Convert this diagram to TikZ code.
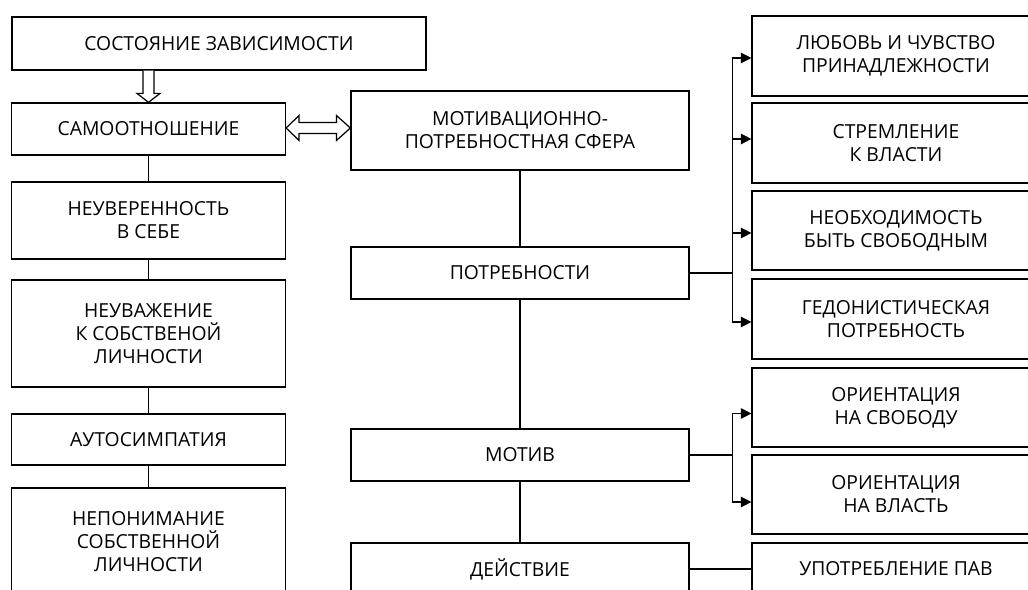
\documentclass[tikz,border=0pt]{standalone}
\usepackage{fontspec}
\setmainfont{Open Sans}
\usepackage{tikz}
\usetikzlibrary{calc,arrows.meta}

\begin{document}
\begin{tikzpicture}[x=0.02cm, y=-0.02cm,
  box/.style={draw, line width=0.7pt, align=center, inner sep=0pt, font=\fontsize{11}{13}\selectfont},
  link/.style={line width=0.7pt},
  tip/.style={line width=0.7pt, -{Triangle[length=6pt,width=6pt]}},
  hollow/.style={draw, line width=0.7pt, fill=white}]

  \useasboundingbox (0,0) rectangle (1028,590);
  \clip (0,0) rectangle (1028,590);

  \node[box, minimum width=8.28cm, minimum height=1.06cm] (dep) at (219,43.5) {СОСТОЯНИЕ ЗАВИСИМОСТИ};
  \node[box, minimum width=5.48cm, minimum height=1.04cm] (self) at (148.5,129) {САМООТНОШЕНИЕ};
  \node[box, minimum width=5.48cm, minimum height=1.54cm] (unsure) at (148.5,220.5) {НЕУВЕРЕННОСТЬ\\В СЕБЕ};
  \node[box, minimum width=5.48cm, minimum height=2.14cm] (disresp) at (148.5,333.5) {НЕУВАЖЕНИЕ\\К СОБСТВЕНОЙ\\ЛИЧНОСТИ};
  \node[box, minimum width=5.48cm, minimum height=1.02cm] (autosym) at (148.5,439.5) {АУТОСИМПАТИЯ};
  \node[box, minimum width=5.48cm, minimum height=2.14cm] (misund) at (148.5,541.5) {НЕПОНИМАНИЕ\\СОБСТВЕННОЙ\\ЛИЧНОСТИ};

  \node[box, minimum width=6.76cm, minimum height=1.58cm] (sphere) at (520,130.5) {МОТИВАЦИОННО-\\ПОТРЕБНОСТНАЯ СФЕРА};
  \node[box, minimum width=6.76cm, minimum height=1.04cm] (needs) at (520,273) {ПОТРЕБНОСТИ};
  \node[box, minimum width=6.76cm, minimum height=1.04cm] (motive) at (520,455) {МОТИВ};
  \node[box, minimum width=6.76cm, minimum height=1.04cm] (action) at (520,569) {ДЕЙСТВИЕ};

  \node[box, minimum width=5.76cm, minimum height=1.6cm] (love) at (896,56) {ЛЮБОВЬ И ЧУВСТВО\\ПРИНАДЛЕЖНОСТИ};
  \node[box, minimum width=5.76cm, minimum height=1.6cm] (power) at (896,143) {СТРЕМЛЕНИЕ\\К ВЛАСТИ};
  \node[box, minimum width=5.76cm, minimum height=1.58cm] (free) at (896,230.5) {НЕОБХОДИМОСТЬ\\БЫТЬ СВОБОДНЫМ};
  \node[box, minimum width=5.76cm, minimum height=1.6cm] (hedon) at (896,319) {ГЕДОНИСТИЧЕСКАЯ\\ПОТРЕБНОСТЬ};
  \node[box, minimum width=5.76cm, minimum height=1.58cm] (ofree) at (896,407.5) {ОРИЕНТАЦИЯ\\НА СВОБОДУ};
  \node[box, minimum width=5.76cm, minimum height=1.58cm] (opower) at (896,494.5) {ОРИЕНТАЦИЯ\\НА ВЛАСТЬ};
  \node[box, minimum width=5.76cm, minimum height=1.04cm] (pav) at (896,569) {УПОТРЕБЛЕНИЕ ПАВ};

  \coordinate (dtop) at (self.north |- dep.south);
  \draw[hollow] ($(dtop)+(-5.5,0)$) -- ($(self.north)+(-5.5,-9)$) -- ($(self.north)+(-11.5,-9)$) -- (self.north)
    -- ($(self.north)+(11.5,-9)$) -- ($(self.north)+(5.5,-9)$) -- ($(dtop)+(5.5,0)$);

  \coordinate (dl) at ([yshift=0.02cm]self.east);
  \coordinate (dr) at (sphere.west |- dl);
  \draw[hollow] (dl) -- ($(dl)+(13,-12.5)$) -- ($(dl)+(13,-5.5)$) -- ($(dr)+(-14,-5.5)$) -- ($(dr)+(-14,-12.5)$) -- (dr)
    -- ($(dr)+(-14,12.5)$) -- ($(dr)+(-14,5.5)$) -- ($(dl)+(13,5.5)$) -- ($(dl)+(13,12.5)$) -- cycle;

  \draw[link] (self) -- (unsure);
  \draw[link] (unsure) -- (disresp);
  \draw[link] (disresp) -- (autosym);
  \draw[link] (autosym) -- (misund);

  \draw[link] (sphere) -- (needs);
  \draw[link] (needs) -- (motive);
  \draw[link] (motive) -- (action);
  \draw[link] (action) -- (pav);

  \draw[link] (needs.east) -- ++(43,0) coordinate (nfork);
  \draw[tip] (nfork) |- ([yshift=-0.04cm]love.west);
  \draw[tip] (nfork) |- ([yshift=0.08cm]power.west);
  \draw[tip] (nfork) |- ([yshift=-0.05cm]free.west);
  \draw[tip] (nfork) |- ([yshift=-0.06cm]hedon.west);

  \draw[link] (motive.east) -- ++(43,0) coordinate (mfork);
  \draw[tip] (mfork) |- ([yshift=-0.12cm]ofree.west);
  \draw[tip] (mfork) |- ([yshift=-0.15cm]opower.west);
\end{tikzpicture}
\end{document}
